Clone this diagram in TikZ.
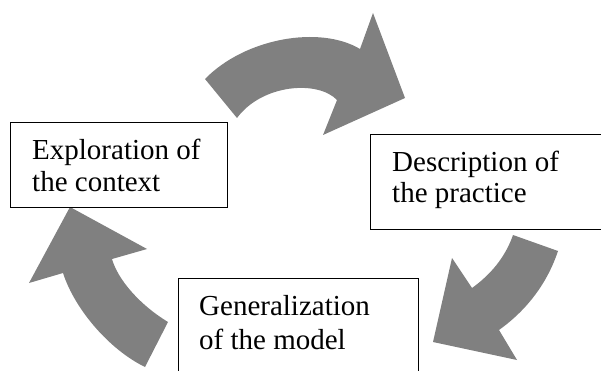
\documentclass[tikz,border=0pt]{standalone}
\usepackage{fontspec}
\setmainfont{Liberation Serif}
\usetikzlibrary{calc}
\definecolor{arrowgray}{HTML}{808080}
\tikzset{
  cyclearrow/.style={fill=arrowgray, draw=none},
  stagebox/.style={draw=black, line width=1.3pt, fill=white, rectangle, anchor=north west, inner sep=0pt},
  stagetext/.style={anchor=base west, inner sep=0pt, font=\fontsize{29}{32}\selectfont}
}
\begin{document}
\begin{tikzpicture}[x=1pt,y=-1pt]
  \useasboundingbox (0,0) rectangle (601,371);
  \clip (0,0) rectangle (601,371);

  % curved arrow: exploration -> description
  \path[cyclearrow] (205,79) .. controls (245,38) and (320,25) .. (360,49)
    -- (373,13) -- (405,98) -- (323,135) -- (337,100)
    .. controls (318,80) and (262,84) .. (237,118) -- cycle;

  % curved arrow: description -> generalization
  \path[cyclearrow] (558,251) -- (513,235)
    .. controls (505,258) and (490,275) .. (472,288)
    -- (452,258) -- (433,342) -- (517,360) -- (499,330)
    .. controls (520,315) and (545,290) .. (558,251) -- cycle;

  % curved arrow: generalization -> exploration
  \path[cyclearrow] (70,207) -- (147,249) -- (112,259)
    .. controls (118,280) and (140,305) .. (168,322)
    -- (145,367)
    .. controls (110,350) and (75,310) .. (63,273)
    -- (29,283) -- cycle;

  % stage boxes
  \node[stagebox, minimum width=217pt, minimum height=85pt] (explore) at (10,122) {};
  \node[stagebox, minimum width=250pt, minimum height=95pt] (describe) at (370,134) {};
  \node[stagebox, minimum width=240pt, minimum height=110pt] (general) at (178,278) {};

  % stage labels
  \node[stagetext] (explore1) at ($(explore.north west)+(22,38)$) {Exploration of};
  \node[stagetext] (explore2) at ($(explore.north west)+(22,70)$) {the context};
  \node[stagetext] (describe1) at ($(describe.north west)+(22,38)$) {Description of};
  \node[stagetext] (describe2) at ($(describe.north west)+(22,69)$) {the practice};
  \node[stagetext] (general1) at ($(general.north west)+(21,37)$) {Generalization};
  \node[stagetext] (general2) at ($(general.north west)+(21,71)$) {of the model};
\end{tikzpicture}
\end{document}
